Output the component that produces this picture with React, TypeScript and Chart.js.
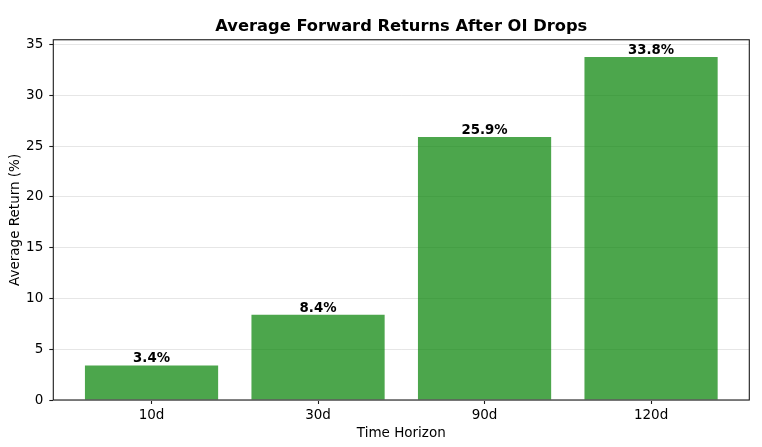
import React, { useEffect, useRef } from 'react';
import Chart from 'chart.js/auto';

const horizons = ['10d', '30d', '90d', '120d'];
const avgReturns = [3.4, 8.4, 25.9, 33.8];
const yTicks = [0, 5, 10, 15, 20, 25, 30, 35];

const barLabels = {
    id: 'barLabels',
    afterDatasetsDraw(chart: any) {
        const ctx = chart.ctx;
        const meta = chart.getDatasetMeta(0);
        ctx.save();
        ctx.font = 'bold 13.3px "DejaVu Sans"';
        ctx.fillStyle = '#000';
        ctx.textAlign = 'center';
        ctx.textBaseline = 'alphabetic';
        meta.data.forEach((bar: any, i: number) => {
            ctx.fillText(avgReturns[i].toFixed(1) + '%', bar.x, bar.y - 3);
        });
        ctx.restore();
    },
};

const frame = {
    id: 'frame',
    afterDraw(chart: any) {
        const { ctx, chartArea } = chart;
        ctx.save();
        ctx.strokeStyle = '#1a1a1a';
        ctx.lineWidth = 1.1;
        ctx.strokeRect(chartArea.left, chartArea.top, chartArea.right - chartArea.left, chartArea.bottom - chartArea.top);
        ctx.restore();
    },
};

const App: React.FC = () => {
    const chartRef = useRef<HTMLCanvasElement>(null);

    useEffect(() => {
        if (!chartRef.current) return;
        const ctx = chartRef.current.getContext('2d');
        if (!ctx) return;
        Chart.defaults.font.family = '"DejaVu Sans"';
        Chart.defaults.color = '#000';

        const myChart = new Chart(ctx, {
            type: 'bar',
            data: {
                datasets: [
                    {
                        label: 'Average Return',
                        data: avgReturns.map((v, i) => ({ x: i, y: v })),
                        backgroundColor: 'rgba(0, 128, 0, 0.7)',
                        borderWidth: 0,
                        categoryPercentage: 1,
                        barPercentage: 0.8,
                    },
                ],
            },
            options: {
                responsive: false,
                animation: false,
                layout: { padding: { right: 12.7, left: 0, top: 0, bottom: 0 } },
                plugins: {
                    legend: { display: false },
                    tooltip: { enabled: false },
                    title: {
                        display: true,
                        text: 'Average Forward Returns After OI Drops',
                        fullSize: false,
                        font: { size: 16.3, weight: 'bold' },
                        color: '#000',
                        padding: { top: 16.8, bottom: 3.4 },
                    },
                },
                scales: {
                    x: {
                        type: 'linear',
                        min: -0.59,
                        max: 3.59,
                        offset: false,
                        afterBuildTicks: (axis: any) => {
                            axis.ticks = horizons.map((_, i) => ({ value: i }));
                        },
                        afterFit: (axis: any) => {
                            axis.height = 47;
                        },
                        ticks: {
                            callback: (value: any) => horizons[value] ?? '',
                            font: { size: 13.5 },
                            padding: 3,
                            maxRotation: 0,
                        },
                        grid: {
                            offset: false,
                            drawOnChartArea: false,
                            drawTicks: true,
                            tickLength: 4,
                            tickColor: '#1a1a1a',
                            tickWidth: 1.1,
                        },
                        border: { display: false },
                        title: {
                            display: true,
                            text: 'Time Horizon',
                            font: { size: 13.5 },
                            padding: { top: 0, bottom: 5 },
                        },
                    },
                    y: {
                        min: 0,
                        max: 35.49,
                        afterBuildTicks: (axis: any) => {
                            axis.ticks = yTicks.map((v) => ({ value: v }));
                        },
                        afterFit: (axis: any) => {
                            axis.width = 53.3;
                        },
                        ticks: {
                            font: { size: 13.5 },
                            padding: 6,
                        },
                        grid: {
                            color: '#e6e6e6',
                            lineWidth: 1,
                            drawTicks: true,
                            tickLength: 4,
                            tickColor: '#1a1a1a',
                            tickWidth: 1.1,
                        },
                        border: { display: false },
                        title: {
                            display: true,
                            text: 'Average Return (%)',
                            font: { size: 13.5 },
                            padding: { top: 7, bottom: 0 },
                        },
                    },
                },
            },
            plugins: [barLabels, frame],
        });

        return () => {
            myChart.destroy();
        };
    }, []);

    return (
        <div style={{ position: 'absolute', left: 0, top: 0, width: 762, height: 447, background: '#fff' }}>
            <canvas ref={chartRef} width={762} height={447} style={{ display: 'block' }}></canvas>
        </div>
    );
};

export default App;
